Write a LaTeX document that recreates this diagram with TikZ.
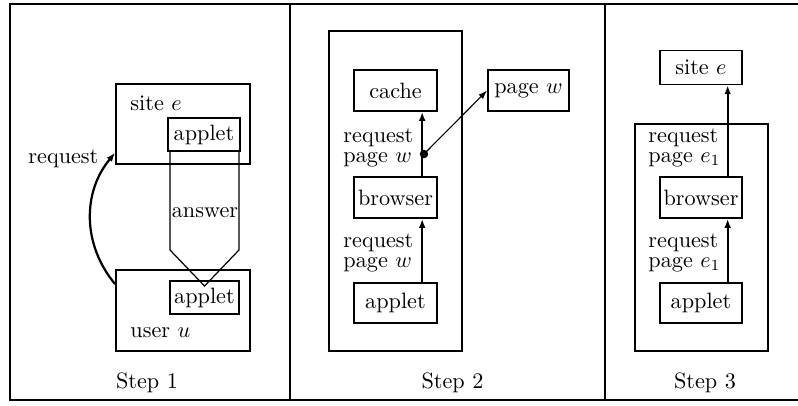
\documentclass[tikz,border=0pt]{standalone}
\usepackage{tikz}
\usetikzlibrary{arrows.meta}
\tikzset{
	box/.style={draw, line width=0.75pt, inner sep=0pt},
	lbl/.style={align=left, anchor=west, inner sep=0pt, font=\fontsize{10pt}{8.8pt}\selectfont},
	arr/.style={-{Latex[length=4pt,width=3pt]}, line width=1pt},
	thinarr/.style={-{Latex[length=4pt,width=2.8pt]}, line width=0.5pt}
}

\begin{document}
\begin{tikzpicture}[x=0.45pt, y=-0.45pt]
		%%%%% START %%%%%
		\useasboundingbox (0, 0) rectangle (798, 405);
		
		% frame
		\draw[line width=0.75pt] (798, 4) -- (10, 4) -- (10, 400) -- (798, 400);
		\draw[line width=0.75pt] (290, 4) -- (290, 400);
		\draw[line width=1.1pt] (605, 4) -- (605, 400);
		
		%%%%% STEP 1 %%%%%
		\node[box, minimum width=60.3pt, minimum height=36pt] (site1) at (183, 124) {};
		\node[anchor=base west, inner sep=0pt] (site1txt) at (130, 110) {site $e$};
		\node[box, minimum width=32.4pt, minimum height=14.9pt] (app1) at (204, 134.5) {applet};
		
		\node[box, minimum width=60.3pt, minimum height=36.5pt] (user1) at (183, 310.5) {};
		\node[anchor=base west, inner sep=0pt] (user1txt) at (130, 337) {user $u$};
		\node[box, minimum width=31pt, minimum height=14.9pt] (app1b) at (204.5, 297.5) {applet};
		
		\coordinate (ansl) at (170, 250);
		\coordinate (ansr) at (239, 250);
		\coordinate (anstip) at (204.5, 286);
		\draw[line width=0.55pt] (ansl |- app1.south) -- (ansl) -- (anstip) -- (ansr) -- (ansr |- app1.south);
		\node[anchor=base, inner sep=0pt] (answer) at (205, 217) {answer};
		
		\draw[arr] ([yshift=-6.75pt]user1.north west) to[bend left=40] ([yshift=5.4pt]site1.south west);
		\node[anchor=base west, inner sep=0pt] (req1) at (28, 163) {request};
		
		\node[anchor=base, inner sep=0pt] (step1) at (147, 388) {Step 1};
		
		%%%%% STEP 2 %%%%%
		\draw[line width=0.75pt] (329, 31) rectangle (462, 351);
		
		\node[box, minimum width=37.4pt, minimum height=18.5pt] (cache2) at (395.5, 90.5) {cache};
		\node[box, minimum width=36.5pt, minimum height=18.5pt] (page2) at (528.5, 90.5) {page $w$};
		\node[box, minimum width=37.4pt, minimum height=18.5pt] (browser2) at (395.5, 197.5) {browser};
		\node[box, minimum width=37.4pt, minimum height=18pt] (applet2) at (395.5, 303) {applet};
		
		\draw[arr] ([xshift=12pt]applet2.north) -- ([xshift=12pt]browser2.south);
		\draw[arr] ([xshift=12pt]browser2.north) -- ([xshift=12pt]cache2.south);
		
		\coordinate (dot2) at (424, 154);
		\fill (dot2) circle (1.9pt);
		\draw[thinarr] (dot2) -- (page2.west);
		
		\node[lbl] (req2a) at (343, 148) {request\\page $w$};
		\node[lbl] (req2b) at (343, 253) {request\\page $w$};
		
		\node[anchor=base, inner sep=0pt] (step2) at (452.5, 388) {Step 2};
		
		%%%%% STEP 3 %%%%%
		\draw[line width=0.75pt] (635, 124) rectangle (768, 351);
		
		\node[box, minimum width=36.9pt, minimum height=15.3pt] (site3) at (701, 67.5) {site $e$};
		\node[box, minimum width=36.9pt, minimum height=18.5pt] (browser3) at (701, 197.5) {browser};
		\node[box, minimum width=36.9pt, minimum height=18pt] (applet3) at (701, 303) {applet};
		
		\draw[arr] ([xshift=12pt]applet3.north) -- ([xshift=12pt]browser3.south);
		\draw[arr] ([xshift=12pt]browser3.north) -- ([xshift=12pt]site3.south);
		
		\node[lbl] (req3a) at (648, 148) {request\\page $e_1$};
		\node[lbl] (req3b) at (648, 253) {request\\page $e_1$};
		
		\node[anchor=base, inner sep=0pt] (step3) at (705, 388) {Step 3};
		
		%%%%% END %%%%%
	\end{tikzpicture}
\end{document}
